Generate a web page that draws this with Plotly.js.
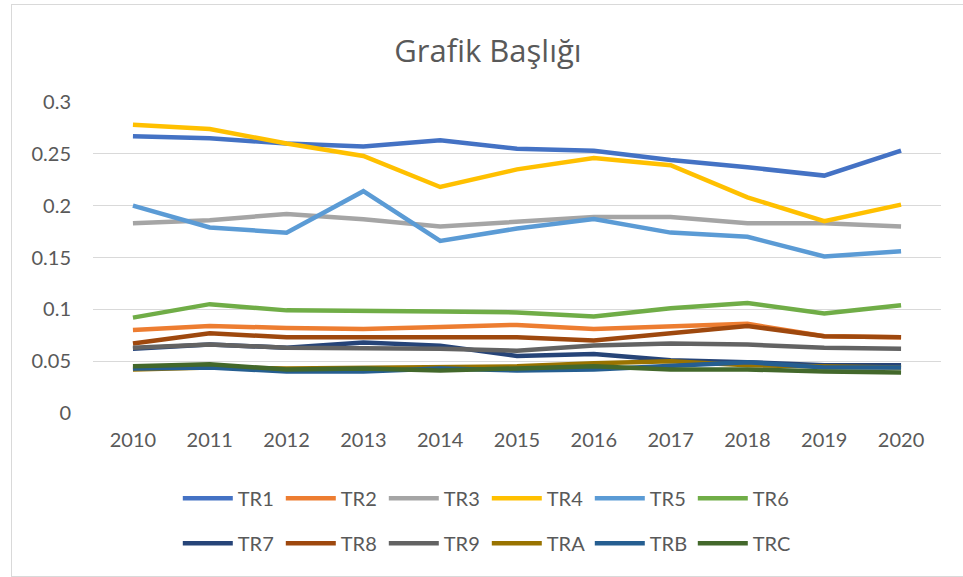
<!DOCTYPE html>
<html>
<head>
<meta charset="utf-8">
<script src="https://cdn.plot.ly/plotly-3.0.1.min.js"></script>
<style>
  html, body { margin: 0; padding: 0; background: #ffffff; }
  #wrap { position: relative; width: 963px; height: 577px; overflow: hidden; }
  #chart { position: absolute; left: 0; top: 0; width: 963px; height: 577px; }
  #frame { position: absolute; left: 11px; top: 4px; width: 980px; height: 571px; border: 1px solid #D9D9D9; pointer-events: none; }
</style>
</head>
<body>
<div id="wrap">
  <div id="chart"></div>
  <div id="frame"></div>
</div>
<script>
const years = [2010, 2011, 2012, 2013, 2014, 2015, 2016, 2017, 2018, 2019, 2020];
const seriesNames = ["TR1", "TR2", "TR3", "TR4", "TR5", "TR6", "TR7", "TR8", "TR9", "TRA", "TRB", "TRC"];
const TR1 = [0.267, 0.265, 0.260, 0.257, 0.263, 0.255, 0.253, 0.244, 0.237, 0.229, 0.253];
const TR2 = [0.080, 0.084, 0.082, 0.081, 0.083, 0.085, 0.081, 0.083, 0.086, 0.074, 0.073];
const TR3 = [0.183, 0.186, 0.192, 0.187, 0.180, 0.184, 0.189, 0.189, 0.183, 0.183, 0.180];
const TR4 = [0.278, 0.274, 0.260, 0.248, 0.218, 0.235, 0.246, 0.239, 0.208, 0.185, 0.201];
const TR5 = [0.200, 0.179, 0.174, 0.214, 0.166, 0.178, 0.187, 0.174, 0.170, 0.151, 0.156];
const TR6 = [0.092, 0.105, 0.099, 0.099, 0.098, 0.097, 0.093, 0.101, 0.106, 0.096, 0.104];
const TR7 = [0.062, 0.066, 0.063, 0.068, 0.065, 0.055, 0.057, 0.051, 0.049, 0.046, 0.046];
const TR8 = [0.067, 0.077, 0.073, 0.073, 0.073, 0.073, 0.070, 0.077, 0.084, 0.074, 0.073];
const TR9 = [0.063, 0.066, 0.063, 0.063, 0.062, 0.060, 0.065, 0.067, 0.066, 0.063, 0.062];
const TRA = [0.042, 0.044, 0.043, 0.044, 0.045, 0.045, 0.048, 0.050, 0.046, 0.045, 0.044];
const TRB = [0.043, 0.044, 0.040, 0.040, 0.043, 0.041, 0.042, 0.046, 0.049, 0.044, 0.044];
const TRC = [0.045, 0.047, 0.042, 0.043, 0.041, 0.043, 0.045, 0.042, 0.042, 0.040, 0.039];
const seriesValues = [TR1, TR2, TR3, TR4, TR5, TR6, TR7, TR8, TR9, TRA, TRB, TRC];
const colors = ["#4472C4", "#ED7D31", "#A5A5A5", "#FFC000", "#5B9BD5", "#70AD47",
                "#264478", "#9E480E", "#636363", "#997300", "#255E91", "#43682B"];
const yTicks = [0, 0.05, 0.1, 0.15, 0.2, 0.25, 0.3];
const yTickText = ["0", "0.05", "0.1", "0.15", "0.2", "0.25", "0.3"];

const traces = seriesNames.map((name, i) => ({
  type: "scatter",
  mode: "lines",
  name: name,
  x: years,
  y: seriesValues[i],
  line: { color: colors[i], width: 4.5 },
  legend: i < 6 ? "legend" : "legend2",
  hoverinfo: "x+y+name"
}));

const font = "Lato, 'Open Sans', sans-serif";
const legendBase = {
  orientation: "h",
  x: 0.1, xanchor: "left",
  yanchor: "middle",
  itemwidth: 50,
  entrywidth: 38, entrywidthmode: "pixels",
  font: { family: font, size: 20, color: "#595959" },
  bgcolor: "rgba(0,0,0,0)",
  traceorder: "normal"
};
const layout = {
  width: 963,
  height: 577,
  paper_bgcolor: "#ffffff",
  plot_bgcolor: "#ffffff",
  margin: { l: 93, r: 22, t: 102, b: 164, pad: 0 },
  title: {
    text: "Grafik Başlığı",
    font: { family: "'Open Sans', Lato, sans-serif", size: 31, color: "#595959" },
    x: 488, xanchor: "center", xref: "container",
    y: 47, yref: "container", yanchor: "middle"
  },
  xaxis: {
    range: [2009.48, 2020.52],
    tickvals: years,
    ticktext: years.map(String),
    showgrid: false,
    zeroline: false,
    showline: false,
    ticks: "",
    ticklabelstandoff: 13,
    tickfont: { family: font, size: 20, color: "#595959" },
    fixedrange: true
  },
  yaxis: {
    range: [0, 0.3],
    tickvals: yTicks,
    ticktext: yTickText,
    showgrid: true,
    gridcolor: "#D9D9D9",
    gridwidth: 1,
    zeroline: false,
    showline: false,
    ticks: "",
    ticklabelstandoff: 21,
    tickfont: { family: font, size: 20, color: "#595959" },
    fixedrange: true
  },
  showlegend: true,
  legend: Object.assign({}, legendBase, { y: -0.274 }),
  legend2: Object.assign({}, legendBase, { y: -0.419 })
};

layout.title.x = 488 / 963;

Plotly.newPlot("chart", traces, layout, { displayModeBar: false, staticPlot: true });
</script>
</body>
</html>
